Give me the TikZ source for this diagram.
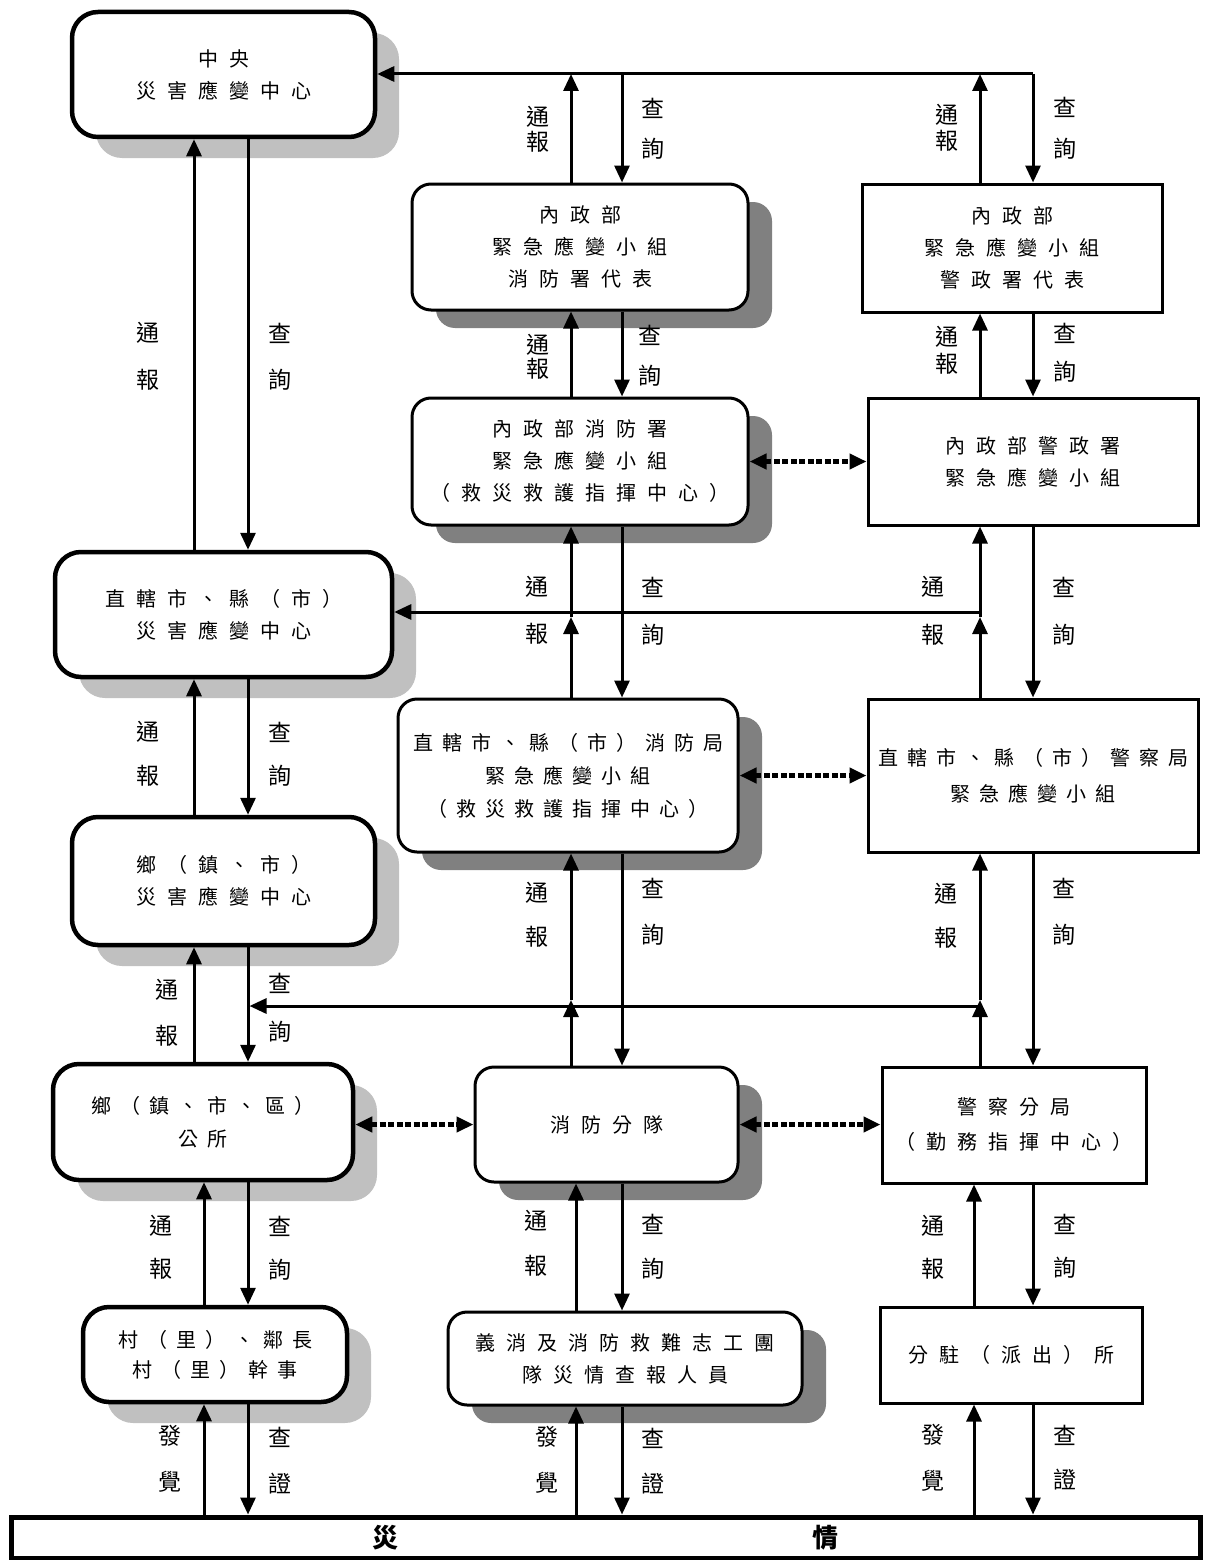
\documentclass[tikz,border=0pt]{standalone}
\usepackage{fontspec}
\setmainfont{Noto Sans CJK TC}
\newfontfamily\bxf{Noto Sans CJK TC}[LetterSpace=55]
\newfontfamily\bxn{Noto Sans CJK TC}[LetterSpace=45]
\usetikzlibrary{arrows.meta,shadows}
\definecolor{shL}{HTML}{C0C0C0}
\definecolor{shD}{HTML}{808080}
\begin{document}
\begin{tikzpicture}[x=1pt,y=-1pt,
  box/.style={draw, fill=white, align=center, inner sep=0pt, font={\bxf\fontsize{20pt}{32pt}\selectfont}},
  nbox/.style={box, font={\bxn\fontsize{20pt}{33pt}\selectfont}},
  rL/.style={rounded corners=26pt, line width=4.5pt, drop shadow={shadow xshift=24pt, shadow yshift=-21pt, fill=shL, opacity=1}},
  rD/.style={rounded corners=19pt, line width=3pt, drop shadow={shadow xshift=24pt, shadow yshift=-18pt, fill=shD, opacity=1}},
  sq/.style={line width=3pt},
  lab/.style={inner sep=0pt, font={\fontsize{23pt}{23pt}\selectfont}},
  arr/.style={line width=3pt, -{Triangle[width=15pt,length=17pt]}},
  darr/.style={line width=5pt, dash pattern=on 6pt off 2.5pt, {Triangle[width=15pt,length=17pt]}-{Triangle[width=15pt,length=17pt]}}
]
\useasboundingbox (0,0) rectangle (1205,1560);
\fill[white] (0,0) rectangle (1205,1560);

% boxes
\node[box, rL, minimum width=303pt, minimum height=125pt] (b1) at (223.5,74.5) {中央\\災害應變中心};
\node[box, rD, minimum width=336pt, minimum height=126pt] (b2) at (580,247) {內政部\\緊急應變小組\\消防署代表};
\node[box, sq, minimum width=300pt, minimum height=128pt] (b3) at (1012,248) {內政部\\緊急應變小組\\警政署代表};
\node[box, rD, minimum width=336pt, minimum height=127pt] (b4) at (580,461.5) {內政部消防署\\緊急應變小組\\（救災救護指揮中心）};
\node[box, sq, minimum width=330pt, minimum height=127pt] (b5) at (1033,461.5) {內政部警政署\\緊急應變小組};
\node[box, rL, minimum width=337pt, minimum height=125pt] (b6) at (223.5,614.5) {直轄市、縣（市）\\災害應變中心};
\node[nbox, rD, minimum width=340pt, minimum height=153pt] (b7) at (568,775.5) {直轄市、縣（市）消防局\\緊急應變小組\\（救災救護指揮中心）};
\node[nbox, sq, minimum width=330pt, minimum height=153pt, font={\bxn\fontsize{20pt}{36pt}\selectfont}] (b8) at (1033,775.5) {直轄市、縣（市）警察局\\緊急應變小組};
\node[box, rL, minimum width=303pt, minimum height=128pt] (b9) at (223.5,881) {鄉（鎮、市）\\災害應變中心};
\node[nbox, rL, minimum width=300pt, minimum height=116pt] (b10) at (203,1122) {鄉（鎮、市、區）\\公所};
\node[box, rD, minimum width=263pt, minimum height=115pt] (b11) at (606.5,1124.5) {消防分隊};
\node[box, sq, minimum width=264pt, minimum height=116pt, font={\bxf\fontsize{20pt}{35pt}\selectfont}] (b12) at (1014,1125) {警察分局\\（勤務指揮中心）};
\node[nbox, rL, minimum width=264pt, minimum height=95pt, font={\bxn\fontsize{20pt}{30pt}\selectfont}] (b13) at (215,1354.5) {村（里）、鄰長\\村（里）幹事};
\node[box, rD, minimum width=354pt, minimum height=93pt] (b14) at (625,1358.5) {義消及消防救難志工團\\隊災情查報人員};
\node[box, sq, minimum width=262pt, minimum height=96pt] (b15) at (1011,1355) {分駐（派出）所};
\node[draw, line width=5pt, fill=white, inner sep=0pt, minimum width=1189pt, minimum height=41pt, font={\bfseries\fontsize{26pt}{26pt}\selectfont}] (bar) at (605.5,1537.5) {災\hspace{414pt}情};

% columns and buses
\coordinate (xLu) at (194,0);
\coordinate (xLu2) at (204,0);
\coordinate (xLd) at (248,0);
\coordinate (xMu) at (571,0);
\coordinate (xMu2) at (576,0);
\coordinate (xMd) at (622,0);
\coordinate (xRu) at (980,0);
\coordinate (xRu2) at (974,0);
\coordinate (xRd) at (1033,0);
\coordinate (busT) at (1033,74);
\coordinate (busM) at (980,612);
\coordinate (busB) at (980,1006);
\coordinate (tipM) at (0,617);
\coordinate (tipB) at (0,1000);

% top bus
\draw[arr] (busT) -- (busT -| b1.east);
\draw[arr] (b2.north -| xMu) -- (xMu |- busT);
\draw[arr] (xMd |- busT) -- (b2.north -| xMd);
\draw[arr] (b3.north -| xRu) -- (xRu |- busT);
\draw[arr] (busT) -- (b3.north -| xRd);
% b2-b4, b3-b5
\draw[arr] (b4.north -| xMu) -- (b2.south -| xMu);
\draw[arr] (b2.south -| xMd) -- (b4.north -| xMd);
\draw[arr] (b5.north -| xRu) -- (b3.south -| xRu);
\draw[arr] (b3.south -| xRd) -- (b5.north -| xRd);
% left column top
\draw[arr] (b6.north -| xLu) -- (b1.south -| xLu);
\draw[arr] (b1.south -| xLd) -- (b6.north -| xLd);
% middle bus
\draw[arr] (busM) -- (busM -| b6.east);
\draw[arr] (b7.north -| xMu) -- (xMu |- tipM);
\draw[arr] (xMu |- tipM) -- (b4.south -| xMu);
\draw[arr] (b4.south -| xMd) -- (b7.north -| xMd);
\draw[arr] (b8.north -| xRu) -- (xRu |- tipM);
\draw[arr] (xRu |- tipM) -- (b5.south -| xRu);
\draw[arr] (b5.south -| xRd) -- (b8.north -| xRd);
% left column middle
\draw[arr] (b9.north -| xLu) -- (b6.south -| xLu);
\draw[arr] (b6.south -| xLd) -- (b9.north -| xLd);
\draw[arr] (b10.north -| xLu) -- (b9.south -| xLu);
\draw[arr] (b9.south -| xLd) -- (b10.north -| xLd);
% lower bus
\draw[arr, shorten >=1.5pt] (busB) -- (busB -| xLd);
\draw[arr] (b11.north -| xMu) -- (xMu |- tipB);
\draw[arr] (xMu |- tipB) -- (b7.south -| xMu);
\draw[arr] (b7.south -| xMd) -- (b11.north -| xMd);
\draw[arr] (b12.north -| xRu) -- (xRu |- tipB);
\draw[arr] (xRu |- tipB) -- (b8.south -| xRu);
\draw[arr] (b8.south -| xRd) -- (b12.north -| xRd);
% lower rows
\draw[arr] (b13.north -| xLu2) -- (b10.south -| xLu2);
\draw[arr] (b10.south -| xLd) -- (b13.north -| xLd);
\draw[arr] (b14.north -| xMu2) -- (b11.south -| xMu2);
\draw[arr] (b11.south -| xMd) -- (b14.north -| xMd);
\draw[arr] (b15.north -| xRu2) -- (b12.south -| xRu2);
\draw[arr] (b12.south -| xRd) -- (b15.north -| xRd);
% bottom
\draw[arr] (bar.north -| xLu2) -- (b13.south -| xLu2);
\draw[arr] (b13.south -| xLd) -- (bar.north -| xLd);
\draw[arr] (bar.north -| xMu2) -- (b14.south -| xMu2);
\draw[arr] (b14.south -| xMd) -- (bar.north -| xMd);
\draw[arr] (bar.north -| xRu2) -- (b15.south -| xRu2);
\draw[arr] (b15.south -| xRd) -- (bar.north -| xRd);
% dashed two-way links
\draw[darr] (b4.east) -- (b4.east -| b5.west);
\draw[darr] (b7.east) -- (b7.east -| b8.west);
\draw[darr] (b11.west -| b10.east) -- (b11.west);
\draw[darr] (b11.east) -- (b11.east -| b12.west);

% labels
\foreach \x/\y/\c [count=\i] in {
 148/333/通, 148/380/報, 280/333/查, 280/380/詢,
 148/732/通, 148/776/報, 280/732/查, 280/776/詢,
 167/990/通, 167/1036/報, 280/983/查, 280/1032/詢,
 161/1226/通, 161/1269/報, 280/1226/查, 280/1270/詢,
 170/1436/發, 170/1482/覺, 280/1437/查, 280/1484/證,
 538/117/通, 538/142/報, 653/108/查, 653/149/詢,
 538/345/通, 538/369/報, 650/335/查, 650/376/詢,
 537/587/通, 537/634/報, 653/587/查, 653/635/詢,
 537/893/通, 537/937/報, 653/888/查, 653/935/詢,
 536/1221/通, 536/1266/報, 653/1224/查, 653/1269/詢,
 547/1437/發, 547/1483/覺, 653/1438/查, 653/1484/證,
 947/115/通, 947/141/報, 1065/107/查, 1065/149/詢,
 947/337/通, 947/364/報, 1065/333/查, 1065/372/詢,
 933/587/通, 933/635/報, 1064/587/查, 1064/635/詢,
 946/894/通, 946/938/報, 1064/888/查, 1064/935/詢,
 933/1226/通, 933/1269/報, 1065/1224/查, 1065/1268/詢,
 933/1435/發, 933/1481/覺, 1065/1435/查, 1065/1480/證}
 \node[lab] (lab\i) at (\x,\y) {\c};
\end{tikzpicture}
\end{document}
